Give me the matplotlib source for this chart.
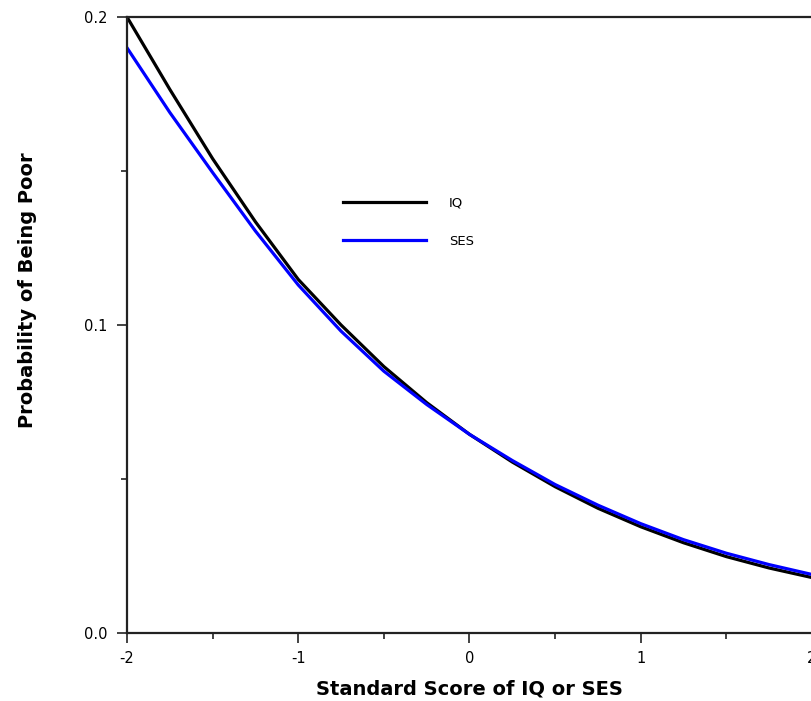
import numpy as np
import matplotlib
matplotlib.use("Agg")
import matplotlib.pyplot as plt
from matplotlib.ticker import MultipleLocator, FormatStrFormatter

# standard score
score = [-2.0, -1.75, -1.5, -1.25, -1.0, -0.75, -0.5, -0.25, 0.0,
         0.25, 0.5, 0.75, 1.0, 1.25, 1.5, 1.75, 2.0]
# probability of being poor
iq = [0.2000, 0.1765, 0.1540, 0.1335, 0.1148, 0.1000, 0.0865, 0.0748, 0.0645,
      0.0555, 0.0475, 0.0405, 0.0345, 0.0293, 0.0248, 0.0211, 0.0180]
ses = [0.1900, 0.1690, 0.1495, 0.1305, 0.1130, 0.0980, 0.0850, 0.0742, 0.0645,
       0.0560, 0.0482, 0.0415, 0.0355, 0.0303, 0.0259, 0.0222, 0.0190]

labels = ["IQ", "SES"]
colors = ["black", "#0000ff"]

fig = plt.figure(figsize=(8.12, 7.01), dpi=100)
ax = fig.add_axes([127 / 812, 1 - 633 / 701, 1 - 127 / 812, (633 - 17) / 701])

ax.plot(score, iq, color=colors[0], lw=2.3, label=labels[0])
ax.plot(score, ses, color=colors[1], lw=2.3, label=labels[1])

ax.set_xlim(-2, 2)
ax.set_ylim(0, 0.2)
ax.xaxis.set_major_locator(MultipleLocator(1))
ax.xaxis.set_minor_locator(MultipleLocator(0.5))
ax.yaxis.set_major_locator(MultipleLocator(0.1))
ax.yaxis.set_minor_locator(MultipleLocator(0.05))
ax.yaxis.set_major_formatter(FormatStrFormatter("%.1f"))
ax.xaxis.set_major_formatter(FormatStrFormatter("%d"))

ax.tick_params(which="major", direction="out", length=7, width=1.2,
               labelsize=10.5, pad=6, color="#222222")
ax.tick_params(which="minor", direction="out", length=4, width=1.2,
               color="#222222")
ax.tick_params(axis="y", which="major", pad=7)

for s in ["left", "bottom", "top"]:
    ax.spines[s].set_linewidth(1.6)
    ax.spines[s].set_color("#222222")
ax.spines["right"].set_visible(False)

ax.set_xlabel("Standard Score of IQ or SES", fontsize=14, fontweight="bold",
              labelpad=10)
ax.set_ylabel("Probability of Being Poor", fontsize=14, fontweight="bold")
ax.yaxis.set_label_coords((37 - 127) / 685, (633 - 290) / 616)

ax.legend(loc="upper left", bbox_to_anchor=((331 - 127) / 685, 1 - (185 - 17) / 616),
          frameon=False, fontsize=9.5, handlelength=6.3, handletextpad=1.75,
          labelspacing=1.9)

plt.savefig("out.png", dpi=100)
